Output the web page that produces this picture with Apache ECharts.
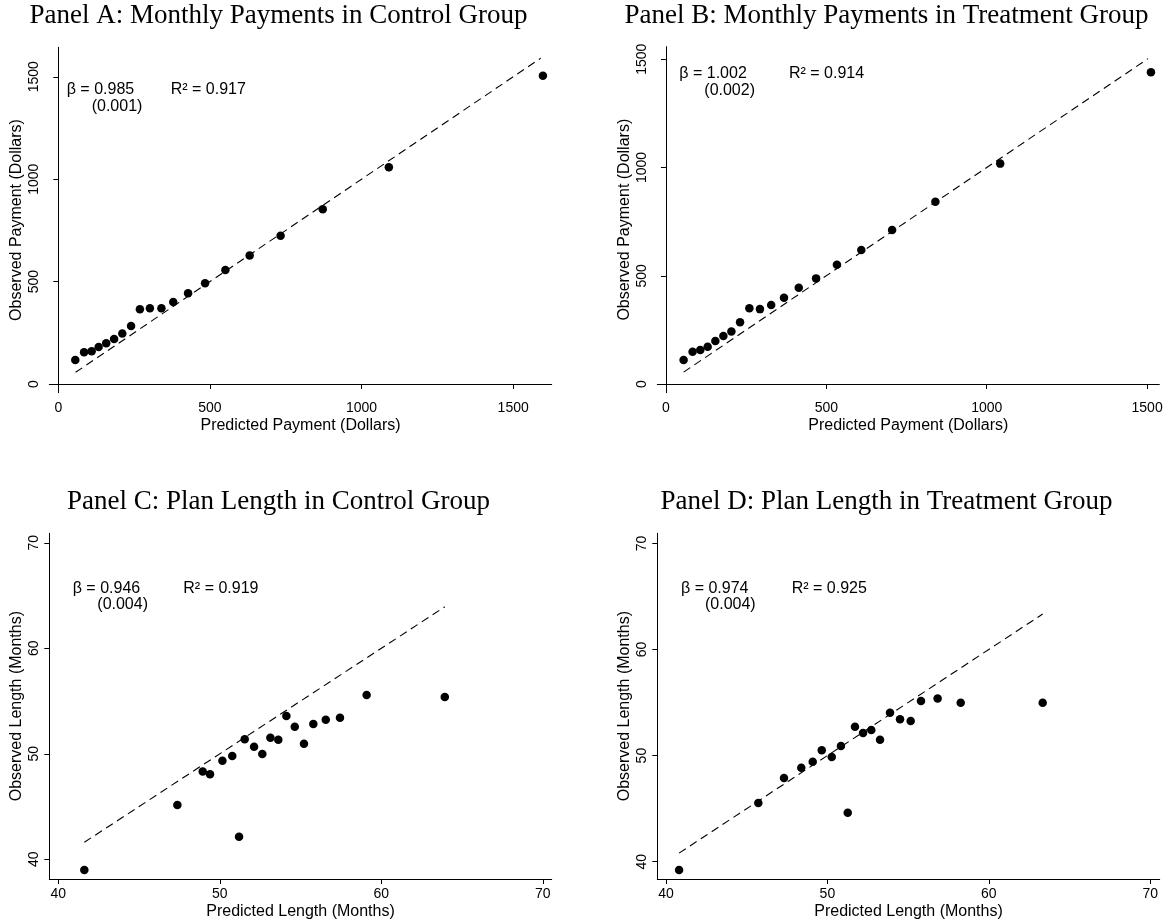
<!DOCTYPE html>
<html>
<head>
<meta charset="utf-8">
<script src="https://cdn.jsdelivr.net/npm/echarts@6/dist/echarts.min.js"></script>
<style>html,body{margin:0;padding:0;background:#fff}#c{width:1169px;height:924px}</style>
</head>
<body>
<div id="c"></div>
<script>
// ---- Data ----
const titles = [
  'Panel A: Monthly Payments in Control Group',
  'Panel B: Monthly Payments in Treatment Group',
  'Panel C: Plan Length in Control Group',
  'Panel D: Plan Length in Treatment Group'
];
const xNames = ['Predicted Payment (Dollars)', 'Predicted Payment (Dollars)', 'Predicted Length (Months)', 'Predicted Length (Months)'];
const yNames = ['Observed Payment (Dollars)', 'Observed Payment (Dollars)', 'Observed Length (Months)', 'Observed Length (Months)'];
const ticksPay = [0, 500, 1000, 1500];
const ticksLen = [40, 50, 60, 70];

const predA = [56,85,110,133,158,184,211,240,269,302,340,379,428,484,551,631,733,872,1090,1598];
const obsA  = [117,155,160,181,199,220,246,283,365,370,370,400,443,492,557,627,724,853,1058,1505];
const predB = [55,83,107,130,154,179,204,231,260,293,328,368,414,468,533,609,705,840,1042,1512];
const obsB  = [111,149,157,172,199,222,243,285,350,346,365,399,445,488,551,619,711,842,1018,1440];
const predC = [41.61,47.37,48.94,49.39,50.16,50.77,51.19,51.54,52.12,52.63,53.13,53.62,54.12,54.64,55.21,55.79,56.56,57.44,59.09,63.93];
const obsC  = [38.99,45.15,48.31,48.06,49.35,49.79,42.14,51.37,50.67,49.98,51.53,51.34,53.58,52.57,50.96,52.82,53.23,53.42,55.57,55.38];
const predD = [40.81,45.72,47.31,48.38,49.09,49.65,50.27,50.84,51.26,51.71,52.21,52.72,53.26,53.88,54.50,55.16,55.80,56.83,58.26,63.34];
const obsD  = [39.22,45.53,47.89,48.86,49.43,50.50,49.87,50.90,44.62,52.72,52.13,52.41,51.50,54.04,53.42,53.26,55.15,55.37,54.99,54.99];

// 45-degree reference line endpoints (predicted range)
const lineA = [57, 1591];
const lineB = [55, 1503];
const lineC = [41.61, 63.93];
const lineD = [40.81, 63.34];

const annotA = ['β = 0.985', '(0.001)', 'R² = 0.917'];
const annotB = ['β = 1.002', '(0.002)', 'R² = 0.914'];
const annotC = ['β = 0.946', '(0.004)', 'R² = 0.919'];
const annotD = ['β = 0.974', '(0.004)', 'R² = 0.925'];

// axis ranges [xmin, xmax, ymin, ymax]
const rangeA = [-29.7, 1627, -42.5, 1644];
const rangeB = [-27, 1538, -40, 1558];
const rangeC = [39.44, 70.55, 38.13, 70.9];
const rangeD = [39.46, 70.59, 38.37, 70.95];

// ---- Layout ----
const SANS = 'Liberation Sans';
const SERIF = 'Liberation Serif';
const grids = [
  {left: 49.3, top: 47.3, width: 502.4, height: 345.4},
  {left: 657.3, top: 46.7, width: 502, height: 346},
  {left: 49.3, top: 533.3, width: 502.4, height: 345.7},
  {left: 657.3, top: 533.3, width: 502.4, height: 345.7}
];
const preds = [predA, predB, predC, predD];
const obss = [obsA, obsB, obsC, obsD];
const lines = [lineA, lineB, lineC, lineD];
const ranges = [rangeA, rangeB, rangeC, rangeD];
const ticks = [ticksPay, ticksPay, ticksLen, ticksLen];
const annots = [annotA, annotB, annotC, annotD];

const titlePos = [[278.5, 15.8], [886.5, 15.8], [278.5, 501.8], [886.5, 501.8]];
const annotPos = [
  {b: [66.7, 90], s: [91.7, 106.7], r: [170.7, 90]},
  {b: [679.3, 73.3], s: [704.3, 90.5], r: [789, 73.3]},
  {b: [72.7, 588.3], s: [97.3, 605], r: [183.3, 588.3]},
  {b: [681, 588.3], s: [705, 605], r: [791.7, 588.3]}
];

const xAxis = [], yAxis = [], series = [], graphic = [];
for (let i = 0; i < 4; i++) {
  const r = ranges[i];
  const common = {
    axisLine: {show: true, lineStyle: {color: '#000', width: 1}},
    axisTick: {show: true, length: 5, customValues: ticks[i], lineStyle: {color: '#000', width: 1}},
    splitLine: {show: false},
    nameLocation: 'middle',
    nameTextStyle: {fontFamily: SANS, fontSize: 16, color: '#000'}
  };
  const fmt = v => String(v);
  xAxis.push(Object.assign({}, common, {
    type: 'value', gridIndex: i, min: r[0], max: r[1], position: 'bottom',
    name: xNames[i], nameGap: 25,
    axisLabel: {customValues: ticks[i], formatter: fmt, margin: 8, fontFamily: SANS, fontSize: 14, color: '#000'}
  }));
  yAxis.push(Object.assign({}, common, {
    type: 'value', gridIndex: i, min: r[2], max: r[3], position: 'left',
    name: yNames[i], nameGap: 25,
    axisLabel: {customValues: ticks[i], formatter: fmt, rotate: 90, margin: 8, fontFamily: SANS, fontSize: 14, color: '#000'}
  }));
  series.push({
    type: 'line', xAxisIndex: i, yAxisIndex: i, symbol: 'none', silent: true,
    lineStyle: {color: '#000', width: 1.1, type: [8, 5]},
    data: lines[i].map(v => [v, v]), z: 2
  });
  series.push({
    type: 'scatter', xAxisIndex: i, yAxisIndex: i, symbol: 'circle', symbolSize: 8.5,
    itemStyle: {color: '#000', opacity: 1},
    data: preds[i].map((p, k) => [p, obss[i][k]]), z: 3
  });
  graphic.push({type: 'text', x: titlePos[i][0], y: titlePos[i][1],
    style: {text: titles[i], font: '27px "' + SERIF + '"', fill: '#000', align: 'center', verticalAlign: 'middle'}});
  const ap = annotPos[i];
  const a = annots[i];
  [[a[0], ap.b], [a[1], ap.s], [a[2], ap.r]].forEach(([t, p]) => {
    graphic.push({type: 'text', x: p[0], y: p[1],
      style: {text: t, font: '16px "' + SANS + '"', fill: '#000', align: 'left', verticalAlign: 'middle'}});
  });
}

const chart = echarts.init(document.getElementById('c'), null, {renderer: 'canvas'});
chart.setOption({
  animation: false,
  backgroundColor: '#fff',
  grid: grids,
  xAxis: xAxis,
  yAxis: yAxis,
  series: series,
  graphic: graphic
});
</script>
</body>
</html>
